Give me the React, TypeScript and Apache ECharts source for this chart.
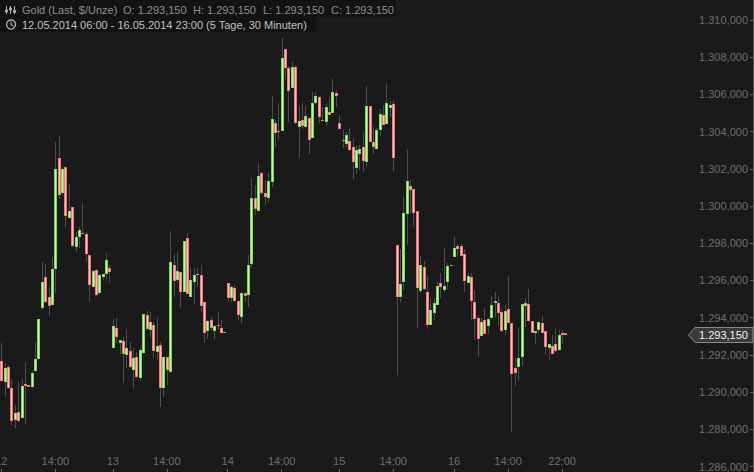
import React, { useEffect, useRef } from "react";
import * as echarts from "echarts";

const slotCount = 224;
const tickSlots = [1, 17, 34, 50, 68, 84, 101, 117, 135, 151, 167];
const tickLabels = ["12", "14:00", "13", "14:00", "14", "14:00", "15", "14:00", "16", "14:00", "22:00"];
const yTicks = { min: 1286, max: 1310, step: 2 };
const lastPrice = 1293.15;

const colors = [
  "G",
  "P","G","P","P","G","P","G","P","P","G","G","G","G","P","P","G","G","P","G","P","G","P","G","G","P","P","P","G","P","G","G","G","P",
  "G","P","G","P","G","P","G","P","G","G","P","G","P","G","P","G","P","G","P","G","P","G","P","G","G","P","P","P","G","P","G","P","P","P",
  "P","G","P","P","G","P","G","G","P","G","P","P","G","G","P","P","G","P","P","G","P","G","P","G","P","G","G","P","P","G","P","G","P",
  "P","P","G","P","P","G","G","P","G","P","P","G","G","P","G","G","P",
  "P","G","G","G","P","P","P","G","P","P","G","G","G","P","G","G","P",
  "G","P","P","P","G","P","P","P","G","P","G","G","G","P","P","G","P","P","P","G","G","G","P","P","G","G","P","P","G","P","P","G","P","P",
];

const bodyTop = [
  1288.77,
  1291.68,1291.30,1291.35,1290.22,1288.88,1288.93,1290.33,1290.43,1290.38,1291.03,1291.78,1293.93,1295.92,1296.19,1295.11,1296.62,1301.99,1302.59,1301.99,1302.10,1299.74,1299.95,1298.34,1298.72,1298.55,1298.50,1297.37,1296.51,1296.56,1296.29,1296.35,1297.10,1296.67,
  1293.56,1293.45,1292.80,1292.75,1292.37,1292.21,1291.84,1291.89,1292.26,1294.20,1294.14,1293.77,1293.61,1292.48,1292.53,1291.89,1291.89,1297.00,1296.83,1296.51,1296.45,1298.12,1298.29,1296.03,1296.29,1296.35,1296.29,1294.84,1293.82,1293.88,1293.56,1293.61,1293.45,1293.23,
  1295.87,1295.65,1295.60,1294.90,1295.33,1295.33,1296.83,1300.44,1300.44,1301.62,1301.78,1300.70,1301.35,1304.68,1304.47,1304.04,1307.96,1308.44,1307.42,1307.48,1307.48,1304.57,1304.63,1304.84,1304.73,1305.54,1305.92,1305.86,1304.63,1305.33,1305.06,1306.13,1306.08,
  1304.47,1303.55,1303.82,1303.50,1303.18,1303.02,1303.07,1303.18,1305.38,1305.38,1303.44,1304.09,1304.95,1304.90,1305.54,1305.43,1305.49,1297.91,1295.81,1299.63,1301.35,1301.08,1300.92,1299.74,1296.83,1296.72,1295.38,1294.41,1294.79,1295.70,1295.87,1295.70,1296.78,1296.83,
  1297.75,1297.86,1297.86,1297.43,1296.24,1296.19,1294.84,1293.99,1293.77,1293.88,1293.93,1294.68,1294.90,1294.79,1294.30,1294.36,1294.47,1293.72,1291.30,1291.84,1294.73,1294.79,1294.73,1293.82,1293.29,1293.77,1293.72,1293.29,1292.59,1292.48,1292.59,1293.07,1293.18,1293.15,
];

const bodyBottom = [
  1288.66,
  1290.60,1290.54,1290.22,1288.45,1288.50,1288.45,1288.61,1290.33,1290.27,1290.27,1291.13,1291.78,1294.52,1294.84,1294.63,1294.68,1296.62,1300.60,1300.70,1299.46,1299.36,1297.86,1297.80,1298.34,1298.50,1297.43,1295.76,1295.65,1295.22,1295.33,1296.19,1296.35,1296.45,
  1292.37,1292.96,1292.64,1292.05,1291.99,1291.35,1291.19,1290.81,1290.76,1292.10,1293.39,1293.34,1292.21,1292.16,1290.22,1290.22,1291.19,1291.08,1295.97,1296.03,1295.38,1295.38,1295.27,1295.11,1295.92,1296.29,1294.63,1293.18,1293.29,1293.45,1293.29,1293.56,1293.18,1293.18,
  1295.06,1295.06,1294.90,1294.14,1294.04,1295.17,1295.22,1296.89,1299.85,1299.74,1300.70,1300.49,1300.44,1301.30,1303.93,1303.98,1304.04,1307.42,1306.19,1306.35,1304.47,1304.25,1304.30,1304.25,1303.55,1303.66,1305.54,1304.79,1304.57,1304.52,1304.90,1305.00,1305.92,
  1304.14,1303.50,1303.34,1303.02,1302.37,1302.05,1302.80,1302.42,1302.37,1303.44,1303.18,1303.07,1304.09,1304.36,1304.41,1305.27,1302.59,1295.11,1295.11,1295.92,1299.57,1300.87,1299.63,1295.60,1295.44,1295.54,1293.61,1293.61,1294.25,1294.68,1295.65,1295.49,1295.92,1296.78,
  1297.26,1297.69,1297.32,1295.97,1295.87,1294.90,1293.93,1292.86,1293.02,1293.13,1293.56,1293.99,1294.79,1294.25,1293.29,1293.34,1293.72,1290.97,1291.03,1291.35,1291.89,1294.63,1293.82,1293.18,1293.18,1293.34,1293.18,1292.42,1292.37,1292.05,1292.21,1292.26,1293.07,1293.07,
];

const wickHigh = [
  1288.77,
  1292.64,1291.62,1291.46,1290.70,1289.31,1290.54,1290.70,1291.62,1290.38,1291.13,1292.69,1293.93,1296.99,1296.89,1295.65,1297.26,1303.44,1303.77,1302.10,1302.10,1301.19,1299.95,1298.61,1298.88,1300.16,1298.61,1297.37,1296.56,1296.62,1296.35,1296.35,1297.48,1296.83,
  1293.93,1293.99,1292.80,1292.96,1293.40,1292.69,1292.37,1292.16,1292.37,1294.20,1294.36,1294.30,1293.77,1294.04,1292.69,1291.89,1291.89,1298.66,1297.43,1297.53,1296.45,1298.12,1298.55,1296.67,1296.67,1296.72,1296.83,1294.84,1293.88,1294.04,1293.61,1294.30,1293.88,1293.23,
  1295.87,1295.76,1295.76,1294.90,1295.38,1295.38,1297.37,1301.51,1301.13,1302.32,1301.83,1301.40,1301.78,1305.92,1304.63,1305.54,1309.04,1308.44,1307.53,1307.75,1307.58,1305.38,1305.54,1305.38,1304.79,1306.13,1306.13,1305.92,1305.33,1305.49,1305.86,1306.83,1306.24,
  1304.90,1304.09,1303.98,1304.20,1303.66,1303.23,1303.28,1303.98,1306.45,1305.38,1304.25,1304.20,1305.22,1305.43,1306.56,1305.65,1305.65,1297.91,1297.69,1300.49,1303.02,1301.40,1300.92,1299.74,1297.32,1297.05,1296.24,1295.06,1295.06,1295.92,1296.40,1297.75,1296.94,1296.83,
  1298.34,1297.96,1297.96,1297.69,1296.40,1296.40,1295.49,1294.09,1293.99,1294.52,1293.99,1295.17,1295.38,1295.17,1294.47,1294.68,1296.24,1293.72,1291.84,1293.45,1294.73,1295.06,1295.54,1293.82,1293.29,1293.77,1294.09,1293.29,1292.59,1293.07,1293.40,1293.34,1293.34,1293.15,
];

const wickLow = [
  1288.66,
  1290.54,1289.79,1290.16,1288.23,1288.07,1288.39,1288.61,1288.28,1290.27,1290.22,1291.08,1291.78,1294.41,1294.79,1294.09,1294.68,1295.33,1300.38,1300.65,1298.87,1299.36,1297.80,1297.53,1297.75,1298.50,1297.00,1294.84,1295.65,1295.17,1295.27,1296.03,1296.08,1295.87,
  1292.37,1292.64,1292.05,1290.49,1291.30,1291.30,1290.22,1290.76,1290.60,1292.05,1293.34,1292.91,1291.84,1291.73,1289.20,1289.74,1290.38,1291.03,1295.11,1295.92,1294.52,1295.38,1295.27,1295.11,1294.73,1295.65,1294.30,1292.64,1292.86,1293.34,1292.86,1293.34,1293.13,1293.18,
  1294.84,1294.84,1294.84,1293.88,1293.71,1294.84,1294.57,1296.67,1299.52,1299.74,1300.60,1300.06,1300.22,1301.03,1303.18,1303.55,1304.04,1306.83,1304.52,1306.35,1304.41,1302.59,1304.14,1304.25,1302.80,1303.66,1305.49,1304.47,1304.57,1304.30,1304.90,1305.00,1305.33,
  1304.14,1303.12,1303.18,1302.96,1301.46,1301.73,1301.94,1301.83,1302.10,1303.44,1302.80,1303.02,1303.77,1304.36,1304.41,1304.79,1301.89,1290.92,1294.84,1295.49,1297.91,1299.63,1298.88,1293.45,1295.33,1295.49,1293.40,1293.61,1293.88,1294.68,1295.06,1295.38,1295.54,1296.78,
  1297.26,1297.26,1297.32,1295.38,1295.87,1293.88,1292.80,1291.89,1293.02,1293.13,1293.13,1293.99,1293.99,1293.56,1293.23,1293.07,1293.72,1287.86,1290.33,1290.60,1291.40,1293.50,1293.77,1293.18,1292.59,1293.18,1293.18,1291.99,1291.73,1292.05,1292.16,1292.21,1292.59,1293.07,
];

const headerItems = [
  { text: "Gold (Last, $/Unze)", x: 22 },
  { text: "O: 1.293,150", x: 123 },
  { text: "H: 1.293,150", x: 193 },
  { text: "L: 1.293,150", x: 263 },
  { text: "C: 1.293,150", x: 331 },
];
const rangeText = "12.05.2014 06:00 - 16.05.2014 23:00 (5 Tage, 30 Minuten)";

const formatPrice = (v: number) => {
  const s = v.toFixed(3);
  return s[0] + "." + s.slice(1, 4) + "," + s.slice(5);
};

const FONT = "Liberation Sans";

export default function App() {
  const ref = useRef<HTMLDivElement>(null);
  useEffect(() => {
    document.body.style.margin = "0";
    document.body.style.background = "#1a1a1a";
    document.body.style.overflow = "hidden";
    const chart = echarts.init(ref.current!, null, { renderer: "svg" });
    const categories = Array.from({ length: slotCount }, (_, i) => {
      const k = tickSlots.indexOf(i);
      return k >= 0 ? tickLabels[k] : "";
    });
    const rows = bodyTop.map((_, i) => [
      i,
      bodyTop[i],
      bodyBottom[i],
      wickHigh[i],
      wickLow[i],
      colors[i] === "G" ? 1 : 0,
    ]);
    const showLabel = (_: number, v: string) => v !== "";
    const showTick = (i: number) => tickSlots.indexOf(i) >= 0;
    chart.setOption({
      animation: false,
      backgroundColor: "#1a1a1a",
      grid: { left: 0.24, width: 756.76, top: 20, height: 446.5, outerBoundsMode: "none" },
      xAxis: {
        type: "category",
        data: categories,
        offset: 5.5,
        axisLine: { show: false },
        axisTick: {
          show: true,
          inside: true,
          length: 3,
          alignWithLabel: true,
          interval: showTick,
          lineStyle: { color: "#666" },
        },
        axisLabel: {
          inside: true,
          margin: 6,
          interval: showLabel,
          color: "#6e6e6e",
          fontFamily: FONT,
          fontSize: 11,
        },
        splitLine: { show: false },
      },
      yAxis: {
        type: "value",
        position: "right",
        min: yTicks.min,
        max: yTicks.max,
        interval: yTicks.step,
        axisLine: { show: false },
        axisTick: { show: true, inside: true, length: 3, lineStyle: { color: "#666" } },
        axisLabel: {
          inside: true,
          margin: 5,
          color: "#6e6e6e",
          fontFamily: FONT,
          fontSize: 11,
          formatter: (v: number) => formatPrice(v),
        },
        splitLine: { show: false },
      },
      series: [
        {
          type: "custom",
          data: rows,
          encode: { x: 0, y: [1, 2, 3, 4] },
          clip: false,
          renderItem: (_: any, api: any) => {
            const i = api.value(0);
            const top = api.coord([i, api.value(1)]);
            const bottom = api.coord([i, api.value(2)]);
            const high = api.coord([i, api.value(3)]);
            const low = api.coord([i, api.value(4)]);
            const green = api.value(5) === 1;
            const x = Math.round(top[0]);
            const outer = green ? "#7fd662" : "#ee7a7a";
            const inner = green ? "#c8f4a8" : "#ffbcbc";
            const y0 = Math.round(top[1]);
            const h = Math.max(1, Math.round(bottom[1]) - y0);
            return {
              type: "group",
              children: [
                {
                  type: "rect",
                  shape: { x: x, y: high[1], width: 1, height: low[1] - high[1] },
                  style: { fill: "#4d4d4d" },
                },
                {
                  type: "rect",
                  shape: { x: x - 1, y: y0, width: 3, height: h },
                  style: { fill: outer },
                },
                {
                  type: "rect",
                  shape: { x: x, y: y0 + 1, width: 1, height: Math.max(0, h - 2) },
                  style: { fill: inner },
                },
              ],
            };
          },
        },
      ],
      graphic: [
        {
          type: "group",
          x: 4,
          y: 0,
          children: [
            { type: "line", shape: { x1: 753.5, y1: 0, x2: 753.5, y2: 472 }, style: { stroke: "#555", lineWidth: 1 } },
            { type: "rect", shape: { x: 0, y: 0, width: 396, height: 17 }, style: { fill: "#131313" } },
            { type: "rect", shape: { x: 0, y: 17, width: 316, height: 15 }, style: { fill: "#131313" } },
            ...headerItems.map((h) => ({
              type: "text",
              x: h.x,
              y: 10,
              style: { text: h.text, fill: "#8f8f8f", font: `11px '${FONT}'`, verticalAlign: "middle" },
            })),
            {
              type: "text",
              x: 22,
              y: 24.5,
              style: { text: rangeText, fill: "#c0c0c0", font: `11px '${FONT}'`, verticalAlign: "middle" },
            },
            { type: "circle", shape: { cx: 11, cy: 24.5, r: 4.5 }, style: { fill: "none", stroke: "#c0c0c0", lineWidth: 1.2 } },
            { type: "polyline", shape: { points: [[11, 21.5], [11, 25], [13.5, 26]] }, style: { fill: "none", stroke: "#c0c0c0", lineWidth: 1 } },
            { type: "line", shape: { x1: 6.5, y1: 6, x2: 6.5, y2: 14 }, style: { stroke: "#b0b0b0", lineWidth: 1 } },
            { type: "line", shape: { x1: 10.5, y1: 6, x2: 10.5, y2: 14 }, style: { stroke: "#b0b0b0", lineWidth: 1 } },
            { type: "line", shape: { x1: 14.5, y1: 6, x2: 14.5, y2: 14 }, style: { stroke: "#b0b0b0", lineWidth: 1 } },
            { type: "circle", shape: { cx: 6.5, cy: 11, r: 1.6 }, style: { fill: "#b0b0b0" } },
            { type: "circle", shape: { cx: 10.5, cy: 9, r: 1.6 }, style: { fill: "#b0b0b0" } },
            { type: "circle", shape: { cx: 14.5, cy: 11.5, r: 1.6 }, style: { fill: "#b0b0b0" } },
            {
              type: "polygon",
              shape: { points: [[688.5, 335], [695, 327.5], [753, 327.5], [753, 342.5], [695, 342.5]] },
              style: { fill: "#3a3a3a", stroke: "#8a8a8a", lineWidth: 1 },
            },
            {
              type: "text",
              x: 699,
              y: 335,
              style: { text: formatPrice(lastPrice), fill: "#f2f2f2", font: `11px '${FONT}'`, verticalAlign: "middle" },
            },
          ],
        },
      ],
    });
    return () => chart.dispose();
  }, []);
  return <div ref={ref} style={{ position: "absolute", left: -4, top: 0, width: 758, height: 472 }} />;
}
